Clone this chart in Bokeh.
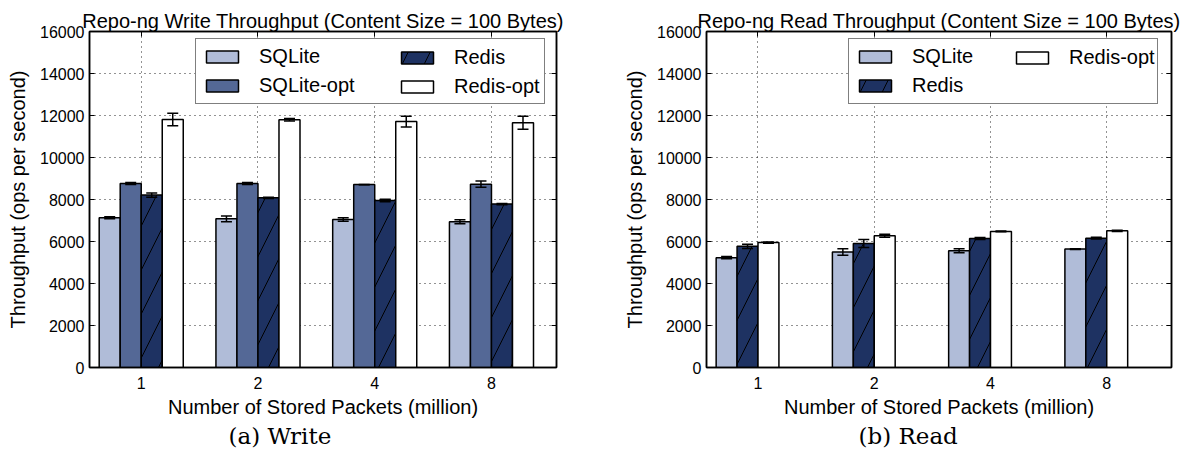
import numpy as np
from bokeh.plotting import figure
from bokeh.models import (Range1d, FixedTicker, LinearAxis, Legend, LegendItem,
                          Whisker, ColumnDataSource, Title, TeeHead)
from bokeh.layouts import row
from bokeh.embed import file_html
from bokeh.resources import INLINE

# ---------------- data ----------------
sizes = ["1", "2", "4", "8"]

write_sqlite = [7130, 7080, 7050, 6940]
write_sqlite_err = [50, 140, 80, 90]
write_sqlite_opt = [8760, 8760, 8710, 8730]
write_sqlite_opt_err = [50, 50, 10, 150]
write_redis = [8210, 8080, 7950, 7780]
write_redis_err = [100, 30, 60, 30]
write_redis_opt = [11810, 11800, 11710, 11650]
write_redis_opt_err = [300, 60, 260, 310]

read_sqlite = [5230, 5500, 5560, 5640]
read_sqlite_err = [50, 160, 100, 20]
read_redis = [5770, 5910, 6140, 6160]
read_redis_err = [100, 190, 50, 40]
read_redis_opt = [5950, 6270, 6480, 6510]
read_redis_opt_err = [30, 70, 20, 30]

y_ticks = list(range(0, 16001, 2000))

C_SQLITE = "#b0bcd8"
C_SQLITE_OPT = "#546896"
C_REDIS = "#1e3262"
C_REDIS_OPT = "#ffffff"

FONT = "Liberation Sans"
BAR_W = 0.18


def hidden_axis(ticks):
    return LinearAxis(ticker=FixedTicker(ticks=ticks), major_label_text_font_size="0px",
                      major_label_text_color=None, major_label_standoff=0,
                      major_tick_in=5, major_tick_out=0,
                      minor_tick_in=0, minor_tick_out=0, axis_line_color="black",
                      axis_line_width=1.5, major_tick_line_color="black")


def make_fig(title, caption, cap_offset, width, left_border, right_border,
             series, legend_cols, legend_pos):
    p = figure(output_backend="svg", toolbar_location=None,
               width=width, height=455,
               min_border_left=left_border, min_border_right=right_border,
               min_border_top=31, min_border_bottom=88,
               x_range=Range1d(-0.443, 3.557), y_range=Range1d(0, 16000),
               background_fill_color="white", border_fill_color="white")
    p.title.text = title
    p.title.align = "center"
    p.title.text_font = FONT
    p.title.text_font_size = "20px"
    p.title.text_font_style = "normal"
    p.title.text_color = "black"
    p.title.standoff = 0

    p.outline_line_color = "black"
    p.outline_line_width = 1.5

    idx = np.arange(len(sizes))
    ticks = list(range(len(sizes)))
    p.xaxis.ticker = FixedTicker(ticks=ticks)
    p.xaxis.major_label_overrides = {i: s for i, s in enumerate(sizes)}
    p.yaxis.ticker = FixedTicker(ticks=y_ticks)
    p.xaxis.axis_label = "Number of Stored Packets (million)"
    p.yaxis.axis_label = "Throughput (ops per second)"
    for ax in (p.xaxis[0], p.yaxis[0]):
        ax.axis_label_text_font = FONT
        ax.axis_label_text_font_size = "20px"
        ax.axis_label_text_font_style = "normal"
        ax.axis_label_text_color = "black"
        ax.major_label_text_font = FONT
        ax.major_label_text_font_size = "16px"
        ax.major_label_text_color = "black"
        ax.major_tick_in = 5
        ax.major_tick_out = 0
        ax.minor_tick_in = 0
        ax.minor_tick_out = 0
        ax.axis_line_color = "black"
        ax.axis_line_width = 1.5
        ax.major_tick_line_color = "black"
        ax.major_tick_line_width = 1
    p.xaxis.major_label_standoff = 9
    p.xaxis.axis_label_standoff = 4
    p.yaxis.major_label_standoff = 5
    p.yaxis.axis_label_standoff = 8

    p.add_layout(hidden_axis(ticks), "above")
    p.add_layout(hidden_axis(y_ticks), "right")

    for g in (p.xgrid[0], p.ygrid[0]):
        g.grid_line_color = "black"
        g.grid_line_dash = "1 4"
        g.grid_line_width = 1
        g.grid_line_alpha = 0.85
    p.xgrid.ticker = FixedTicker(ticks=ticks)
    p.ygrid.ticker = FixedTicker(ticks=y_ticks)

    renderers = {}
    whiskers = []
    for name, vals, errs, color, hatch, slot in series:
        x = idx + slot * BAR_W
        src = ColumnDataSource(dict(x=x, top=vals,
                                    upper=np.array(vals) + np.array(errs),
                                    lower=np.array(vals) - np.array(errs)))
        kw = {}
        if hatch:
            kw = dict(hatch_pattern="/", hatch_scale=44, hatch_color="black", hatch_weight=1)
        r = p.vbar(x="x", top="top", bottom=0, width=BAR_W, source=src,
                   fill_color=color, line_color="black", line_width=1.5, **kw)
        renderers[name] = r
        w = Whisker(source=src, base="x", upper="upper", lower="lower",
                    line_color="black", line_width=1.5, level="annotation",
                    upper_head=TeeHead(size=11, line_color="black", line_width=1.5),
                    lower_head=TeeHead(size=11, line_color="black", line_width=1.5))
        whiskers.append(w)
    for w in whiskers:
        p.add_layout(w)

    common = dict(glyph_width=40, glyph_height=15, label_standoff=17, padding=6,
                  spacing=6, label_height=21, margin=0,
                  label_text_font=FONT, label_text_font_size="20px",
                  label_text_color="black", orientation="vertical")
    (xa, ya, wa), (xb, yb) = legend_pos
    leg_a = Legend(items=[LegendItem(label=n, renderers=[renderers[n]]) for n in legend_cols[0]],
                   location=(xa, ya), label_width=wa,
                   border_line_color="black", border_line_width=1.5,
                   background_fill_color="white", background_fill_alpha=1, **common)
    leg_b = Legend(items=[LegendItem(label=n, renderers=[renderers[n]]) for n in legend_cols[1]],
                   location=(xb, yb), border_line_alpha=0,
                   background_fill_alpha=0, **common)
    p.add_layout(leg_a, "center")
    p.add_layout(leg_b, "center")

    cap = Title(text=caption, align="left", offset=cap_offset, standoff=1,
                text_font="DejaVu Serif", text_font_size="23px", text_font_style="normal",
                text_color="black")
    p.add_layout(cap, "below")
    return p


p1 = make_fig("Repo-ng Write Throughput (Content Size = 100 Bytes)", "(a) Write", 139,
              621, 89, 65,
              [("SQLite", write_sqlite, write_sqlite_err, C_SQLITE, False, -1.5),
               ("SQLite-opt", write_sqlite_opt, write_sqlite_opt_err, C_SQLITE_OPT, False, -0.5),
               ("Redis", write_redis, write_redis_err, C_REDIS, True, 0.5),
               ("Redis-opt", write_redis_opt, write_redis_opt_err, C_REDIS_OPT, False, 1.5)],
              (["SQLite", "SQLite-opt"], ["Redis", "Redis-opt"]),
              ((106, 263, 279), (302, 263)))

p2 = make_fig("Repo-ng Read Throughput (Content Size = 100 Bytes)", "(b) Read", 152,
              562, 81, 12,
              [("SQLite", read_sqlite, read_sqlite_err, C_SQLITE, False, -1.5),
               ("Redis", read_redis, read_redis_err, C_REDIS, True, -0.5),
               ("Redis-opt", read_redis_opt, read_redis_opt_err, C_REDIS_OPT, False, 0.5)],
              (["SQLite", "Redis"], ["Redis-opt"]),
              ((142, 263, 239), (300, 292)))

layout = row(p1, p2)
open("out.html", "w").write(file_html(layout, INLINE))
